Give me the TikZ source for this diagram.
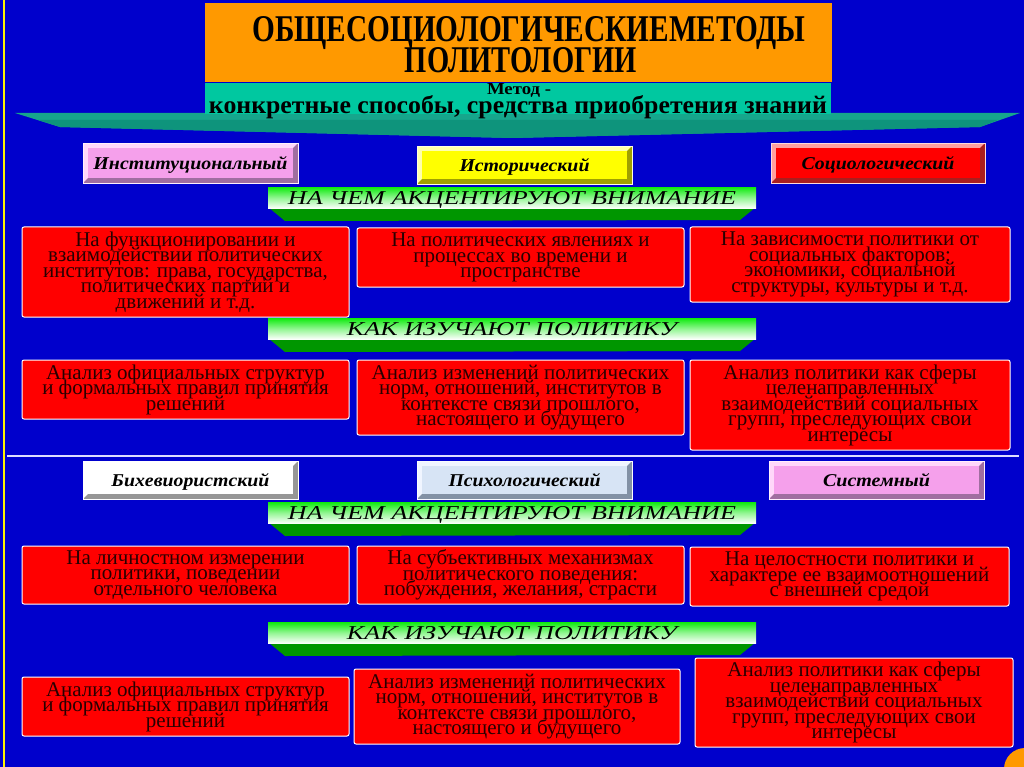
\documentclass[tikz,border=0pt]{standalone}
\usepackage{fontspec}
\usepackage{graphicx}
\setmainfont{Liberation Serif}
\definecolor{bgblue}{RGB}{0,0,204}
\definecolor{ttlorange}{RGB}{255,153,0}
\definecolor{tealbox}{RGB}{0,200,160}
\definecolor{tealband}{RGB}{22,166,140}
\definecolor{tealdark}{RGB}{14,148,124}
\definecolor{bangreen}{RGB}{20,235,20}
\definecolor{dkgreen}{RGB}{0,150,0}
\definecolor{txtred}{RGB}{40,0,0}
\definecolor{pinkface}{RGB}{245,160,235}
\definecolor{pinklight}{RGB}{255,215,250}
\definecolor{pinkdark}{RGB}{160,110,160}
\definecolor{yelface}{RGB}{255,255,0}
\definecolor{yellight}{RGB}{255,255,170}
\definecolor{yeldark}{RGB}{160,160,0}
\definecolor{redface}{RGB}{255,0,0}
\definecolor{redlight}{RGB}{255,160,160}
\definecolor{reddark}{RGB}{170,30,30}
\definecolor{whface}{RGB}{255,255,255}
\definecolor{whdark}{RGB}{150,150,150}
\definecolor{psyface}{RGB}{215,228,245}
\definecolor{psylight}{RGB}{240,245,255}
\definecolor{psydark}{RGB}{130,145,165}
\definecolor{sepline}{RGB}{220,220,255}
\newcommand\tightlines{\lineskiplimit=-40pt\relax\lineskip=0pt\relax}
\newcommand\redfont{\fontsize{21}{15.5}\selectfont\tightlines}
\tikzset{
 redbox/.style={draw=white, line width=1pt, fill=red, rounded corners=2pt, inner sep=0pt, align=center, text=txtred, font=\redfont},
 methbox/.style={inner sep=0pt, text height=13pt, text depth=0pt, text=black},
 banner/.style={inner sep=0pt, minimum width=488pt, minimum height=21pt, top color=bangreen, bottom color=white, middle color=white!55!bangreen, text height=13pt, text depth=0pt, text=black},
 ttltext/.style={inner sep=0pt, anchor=base, text=black},
}
\newcommand\bevbox[9]{%
  \fill[#7] (#2,#3) rectangle (#4,#5);
  \fill[#8] (#4,#3) -- (#4,#5) -- (#2,#5) -- (#2+5,#5-5) -- (#4-5,#5-5) -- (#4-5,#3+5) -- cycle;
  \draw[white!60!#7, line width=0.8pt] (#2,#3) rectangle (#4,#5);
  \node[methbox, fill=#6, minimum width={#4-#2-10}, minimum height={#5-#3-10}] (#1) at ({(#2+#4)/2},{(#3+#5)/2}) {#9};}
\newcommand\rbox[6]{\node[redbox, minimum width={#4-#2}, minimum height={#5-#3}] (#1) at ({(#2+#4)/2},{(#3+#5)/2}) {#6};}
\newcommand\gban[4]{%
  \fill[dkgreen] (268,#2+20) -- (756,#2+20) -- (740,#2+33) -- (285,#2+34) -- cycle;
  \node[banner] (#1) at (512,#2+11) {\resizebox{#4pt}{13pt}{\itshape #3}};}
\begin{document}
\begin{tikzpicture}[x=1pt,y=-1pt]
\useasboundingbox (0,0) rectangle (1024,767);
\fill[bgblue] (0,0) rectangle (1024,767);
\draw[yellow, line width=2.5pt] (4,0) -- (4,767);
% title
\fill[ttlorange] (205,3) rectangle (832,82);
\fill[tealband] (15,113) -- (1020,113) -- (980,127) -- (512,138) -- (60,127) -- cycle;
\fill[tealdark] (38,120) -- (998,120) -- (980,127) -- (512,138) -- (60,127) -- cycle;
\fill[tealbox] (205,83) rectangle (831,114);
\node[ttltext] (t1) at (529,42) {\resizebox{553pt}{25pt}{\bfseries ОБЩЕСОЦИОЛОГИЧЕСКИЕМЕТОДЫ}};
\node[ttltext] (t2) at (521,73) {\resizebox{232pt}{25pt}{\bfseries ПОЛИТОЛОГИИ}};
\node[ttltext] (m1) at (519,95) {\resizebox{64pt}{11pt}{\bfseries Метод -}};
\node[ttltext] (m2) at (518,114) {\resizebox{618pt}{18pt}{\bfseries конкретные способы, средства приобретения знаний}};
% row 1 methods
\bevbox{inst}{83}{143}{298}{183}{pinkface}{pinklight}{pinkdark}{\resizebox{194pt}{13pt}{\bfseries\itshape Институциональный}}
\bevbox{hist}{417}{146}{632}{184}{yelface}{yellight}{yeldark}{\resizebox{130pt}{13pt}{\bfseries\itshape Исторический}}
\bevbox{soc}{771}{143}{985}{183}{redface}{redlight}{reddark}{\resizebox{153pt}{13pt}{\bfseries\itshape Социологический}}
\gban{b1}{187}{НА ЧЕМ АКЦЕНТИРУЮТ ВНИМАНИЕ}{448}
\rbox{r1a}{22}{227}{349}{317}{На функционировании и\\ взаимодействии  политических\\ институтов: права, государства,\\ политических  партий  и\\ движений и т.д.}
\rbox{r1b}{357}{228}{684}{287}{На политических явлениях и\\ процессах во времени и\\ пространстве}
\rbox{r1c}{690}{227}{1010}{302}{На зависимости политики от\\ социальных  факторов:\\ экономики,  социальной\\ структуры, культуры и т.д.}
\gban{b2}{318}{КАК ИЗУЧАЮТ ПОЛИТИКУ}{330}
\rbox{r2a}{22}{360}{349}{419}{Анализ официальных структур\\ и формальных правил принятия\\ решений}
\rbox{r2b}{357}{360}{684}{435}{Анализ изменений политических\\ норм,  отношений, институтов в\\ контексте связи прошлого,\\ настоящего и будущего}
\rbox{r2c}{690}{360}{1010}{450}{Анализ политики как сферы\\ целенаправленных\\ взаимодействий социальных\\ групп, преследующих свои\\ интересы}
\draw[sepline, line width=2pt] (7,456) -- (1019,456);
% row 3 methods
\bevbox{beh}{83}{461}{298}{499}{whface}{white}{whdark}{\resizebox{158pt}{13pt}{\bfseries\itshape Бихевиористский}}
\bevbox{psy}{417}{461}{632}{499}{psyface}{psylight}{psydark}{\resizebox{152pt}{13pt}{\bfseries\itshape Психологический}}
\bevbox{sys}{769}{461}{984}{499}{pinkface}{pinklight}{pinkdark}{\resizebox{107pt}{13pt}{\bfseries\itshape Системный}}
\gban{b3}{502}{НА ЧЕМ АКЦЕНТИРУЮТ ВНИМАНИЕ}{448}
\rbox{r3a}{22}{546}{349}{604}{На личностном измерении\\ политики,  поведении\\ отдельного  человека}
\rbox{r3b}{357}{546}{684}{604}{На субъективных механизмах\\ политического поведения:\\ побуждения, желания, страсти}
\rbox{r3c}{690}{547}{1009}{606}{На целостности политики и\\ характере ее взаимоотношений\\ с внешней средой}
\gban{b4}{622}{КАК ИЗУЧАЮТ ПОЛИТИКУ}{330}
\rbox{r4a}{22}{677}{349}{736}{Анализ официальных структур\\ и формальных правил принятия\\ решений}
\rbox{r4b}{354}{669}{680}{744}{Анализ изменений политических\\ норм,  отношений, институтов в\\ контексте связи прошлого,\\ настоящего и будущего}
\rbox{r4c}{695}{658}{1013}{747}{Анализ политики как сферы\\ целенаправленных\\ взаимодействий социальных\\ групп, преследующих свои\\ интересы}
\fill[ttlorange] (1025,769) circle (21);
\end{tikzpicture}
\end{document}
